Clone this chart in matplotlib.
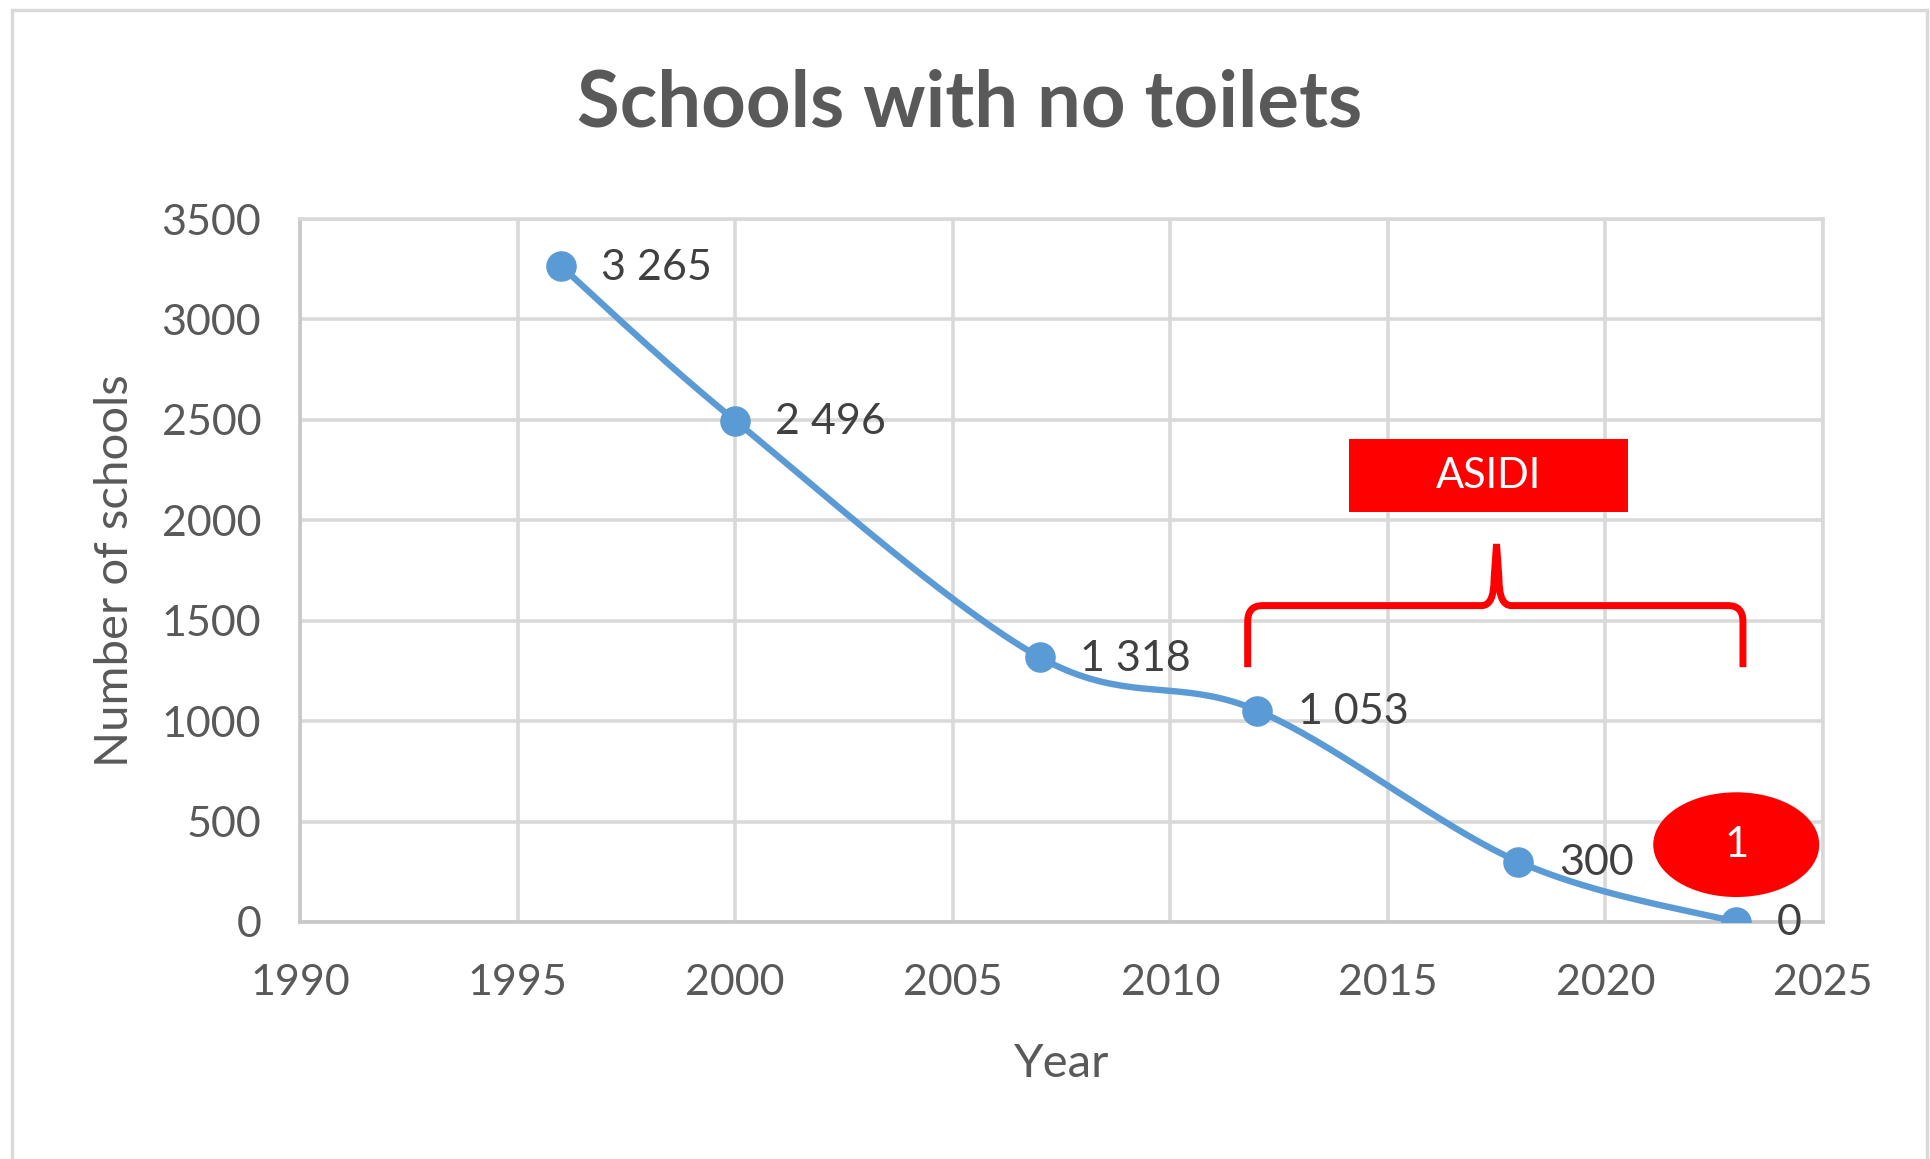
"""Schools with no toilets - line chart"""
import matplotlib
matplotlib.use('Agg')
import matplotlib.pyplot as plt
import numpy as np
from matplotlib.patches import Rectangle, Ellipse, PathPatch
from matplotlib.path import Path

years = [1996, 2000, 2007, 2012, 2018, 2023]
schools = [3265, 2496, 1318, 1053, 300, 0]
x_ticks = [1990, 1995, 2000, 2005, 2010, 2015, 2020, 2025]
y_ticks = [0, 500, 1000, 1500, 2000, 2500, 3000, 3500]

LINE_COLOR = '#5b9bd5'
GRID_COLOR = '#d9d9d9'
TEXT_COLOR = '#595959'
RED = '#ff0000'

plt.rcParams['font.family'] = ['Lato', 'DejaVu Sans']


def smooth_curve(xs, ys, steps=40):
    """Excel-like smoothed line (Catmull-Rom through the points)"""
    pts = np.column_stack([xs, ys]).astype(float)
    n = len(pts)
    out = []
    for i in range(n - 1):
        p0 = pts[i - 1] if i > 0 else pts[i]
        p1 = pts[i]
        p2 = pts[i + 1]
        p3 = pts[i + 2] if i + 2 < n else pts[i + 1]
        c1 = p1 + (p2 - p0) / 6
        c2 = p2 - (p3 - p1) / 6
        t = np.linspace(0, 1, steps)[:, None]
        seg = ((1 - t) ** 3 * p1 + 3 * (1 - t) ** 2 * t * c1
               + 3 * (1 - t) * t ** 2 * c2 + t ** 3 * p2)
        out.append(seg if i == 0 else seg[1:])
    out = np.vstack(out)
    return out[:, 0], out[:, 1]


fig = plt.figure(figsize=(19.31, 11.59), dpi=100)
ax = fig.add_axes([0.1554, 0.2045, 0.7887, 0.6065])

sx, sy = smooth_curve(years, schools)
ax.plot(sx, sy, color=LINE_COLOR, linewidth=4.6, zorder=3,
        solid_capstyle='round')
ax.plot(years, schools, 'o', color=LINE_COLOR, markersize=21, zorder=4)

for x, y in zip(years, schools):
    label = f"{y:,}".replace(",", " ")
    ax.annotate(label, (x, y), textcoords="offset points", xytext=(29, -1),
                ha='left', va='center', fontsize=31, color='#404040',
                zorder=5)

ax.set_xlim(1990, 2025)
ax.set_ylim(0, 3500)
ax.set_xticks(x_ticks)
ax.set_yticks(y_ticks)
ax.tick_params(axis='both', length=0, labelsize=31, labelcolor=TEXT_COLOR)
ax.tick_params(axis='x', pad=30)
ax.tick_params(axis='y', pad=28)
ax.grid(True, color=GRID_COLOR, linewidth=2.6)
ax.set_axisbelow(True)
for name, sp in ax.spines.items():
    sp.set_color(GRID_COLOR)
    sp.set_linewidth(2.6)
ax.spines['left'].set_color('#c8c8c8')
ax.spines['bottom'].set_color('#c8c8c8')

ax.set_xlabel('Year', fontsize=34, color=TEXT_COLOR)
ax.set_ylabel('Number of schools', fontsize=34, color=TEXT_COLOR)
ax.xaxis.set_label_coords(0.5, -0.172)
ax.yaxis.set_label_coords(-0.108, 0.5)

fig.text(0.502, 0.910, 'Schools with no toilets', ha='center', va='center',
         fontsize=56, fontweight='bold', color=TEXT_COLOR)

# ASIDI box
ax.add_patch(Rectangle((0.689, 0.583), 0.183, 0.104, transform=ax.transAxes,
                       facecolor=RED, edgecolor='none', zorder=6,
                       clip_on=False))
ax.text(0.7805, 0.635, 'ASIDI', transform=ax.transAxes, ha='center',
        va='center', fontsize=30, color='white', zorder=7)

# brace
verts = [(0.6222, 0.3625), (0.6222, 0.4273),
         (0.6222, 0.4501), (0.6319, 0.4501),
         (0.7759, 0.4501),
         (0.7840, 0.4501), (0.7840, 0.4886),
         (0.7856, 0.5377),
         (0.7872, 0.4886),
         (0.7872, 0.4501), (0.7953, 0.4501),
         (0.9377, 0.4501),
         (0.9474, 0.4501), (0.9474, 0.4273),
         (0.9474, 0.3625)]
codes = [Path.MOVETO, Path.LINETO,
         Path.CURVE3, Path.CURVE3,
         Path.LINETO,
         Path.CURVE3, Path.CURVE3,
         Path.LINETO,
         Path.LINETO,
         Path.CURVE3, Path.CURVE3,
         Path.LINETO,
         Path.CURVE3, Path.CURVE3,
         Path.LINETO]
ax.add_patch(PathPatch(Path(verts, codes), transform=ax.transAxes,
                       facecolor='none', edgecolor=RED, linewidth=5,
                       zorder=6, clip_on=False))

# red ellipse
ax.add_patch(Ellipse((0.943, 0.110), 0.109, 0.149, transform=ax.transAxes,
                     facecolor=RED, edgecolor='none', zorder=6,
                     clip_on=False))
ax.text(0.943, 0.110, '1', transform=ax.transAxes, ha='center',
        va='center', fontsize=30, color='white', zorder=7)

# outer chart frame
fig.patches.append(Rectangle((0.006, -0.02), 0.992, 1.011,
                             transform=fig.transFigure, facecolor='none',
                             edgecolor=GRID_COLOR, linewidth=2.5))

plt.savefig('out.png', dpi=100)
plt.close()
